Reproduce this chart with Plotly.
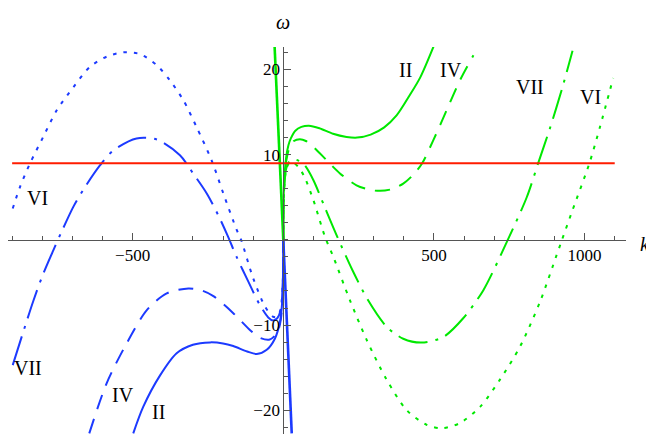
import plotly.graph_objects as go

# --- data (k, omega) ---
OMEGA_LEVEL = 9.0

# steep branch through the origin (shared by every curve of one colour)
K_STEEP_GREEN = [-29, -15, -7, 0]
W_STEEP_GREEN = [22.8, 11.7, 5.8, 0]
K_STEEP_BLUE = [0, 7, 14, 28]
W_STEEP_BLUE = [0, -5.8, -11.8, -22.7]

# green branches (k > 0)
K_GREEN_II = [0, 0.5, 2, 5, 10, 17, 25, 40, 60, 85, 120, 165, 210, 245, 290, 335, 376, 420, 455, 500]
W_GREEN_II = [0, 3.5, 6.0, 8.0, 9.8, 11.1, 11.9, 12.8, 13.25, 13.4, 13.1, 12.45, 12.08, 12.0, 12.35, 13.2, 14.6, 17.0, 19.1, 22.8]

K_GREEN_IV = [0, 0.5, 2, 5, 10, 20, 35, 55, 75, 100, 144, 188, 243, 290, 321, 360, 398, 430, 461, 498, 542, 586, 631]
W_GREEN_IV = [0, 3.3, 5.6, 7.6, 9.3, 10.8, 11.6, 11.8, 11.6, 10.9, 9.34, 7.8, 6.4, 5.85, 5.75, 5.95, 6.6, 7.6, 9.0, 11.7, 15.2, 18.7, 21.65]

K_GREEN_VII = [0, 0.5, 2, 5, 10, 20, 34, 50, 70, 100, 138, 180, 230, 280, 343, 398, 459, 531, 597, 664, 745, 808, 846, 885, 924, 960]
W_GREEN_VII = [0, 3.2, 5.4, 7.2, 8.4, 9.2, 9.45, 9.3, 8.8, 7.0, 3.8, 0.3, -3.6, -7.0, -10.2, -11.6, -12.05, -11.4, -9.2, -5.9, 0, 5.0, 9.0, 13.1, 17.6, 22.2]

K_GREEN_VI = [0, 0.5, 2, 5, 10, 20, 35, 50, 70, 100, 138, 166, 221, 277, 343, 410, 476, 526, 586, 653, 719, 786, 852, 907, 925, 960, 1016, 1051, 1095]
W_GREEN_VI = [0, 3.2, 5.4, 7.1, 8.3, 9.05, 9.0, 8.56, 7.4, 4.65, 0.4, -2.0, -7.07, -11.76, -16.4, -20.0, -21.7, -22.1, -21.5, -19.6, -16.4, -12.5, -7.27, -1.8, 0, 3.5, 9.0, 13.25, 19.0]

# blue branches (k < 0)
K_BLUE_II = [-498, -465, -409, -354, -300, -243, -200, -166, -120, -88, -55, -28, -11, -5, -2, -0.5, 0]
W_BLUE_II = [-22.7, -19.6, -15.9, -13.3, -12.3, -12.03, -12.15, -12.46, -13.1, -13.4, -12.9, -11.6, -9.6, -7.9, -5.9, -3.5, 0]

K_BLUE_IV = [-644, -586, -520, -453, -387, -315, -270, -232, -166, -110, -77, -45, -20, -8, -2, -0.5, 0]
W_BLUE_IV = [-22.7, -16.8, -12.15, -8.24, -6.28, -5.7, -5.95, -6.6, -8.6, -10.6, -11.5, -11.7, -10.9, -9.3, -5.6, -3.3, 0]

K_BLUE_VII = [-898, -830, -798, -763, -736, -697, -658, -608, -564, -487, -420, -343, -299, -254, -216, -183, -155, -116, -80, -50, -34, -20, -10, -5, -2, -0.5, 0]
W_BLUE_VII = [-14.7, -7.2, -4.1, -1.2, 0.94, 3.87, 6.2, 8.76, 10.5, 11.9, 11.77, 9.93, 7.78, 5.44, 2.9, 0.35, -2.0, -4.9, -7.5, -9.1, -9.45, -9.2, -8.4, -7.2, -5.4, -3.2, 0]

K_BLUE_VI = [-898, -874, -841, -797, -752, -697, -642, -586, -531, -476, -420, -376, -332, -288, -238, -199, -155, -140, -100, -61, -35, -20, -10, -5, -2, -0.5, 0]
W_BLUE_VI = [3.68, 6.2, 8.95, 12.07, 15.2, 17.9, 20.3, 21.5, 22.0, 21.8, 20.5, 18.7, 16.4, 13.25, 9.34, 5.44, 1.2, 0, -4.5, -7.8, -9.0, -9.05, -8.3, -7.1, -5.4, -3.2, 0]

K_LEVEL = [-900, 1100]

X_TICKS = [-500, 500, 1000]
X_TICK_TEXT = ["\u2212500", "500", "1000"]
Y_TICKS = [-20, -10, 10, 20]
Y_TICK_TEXT = ["\u221220", "\u221210", "10", "20"]

# the page body adds an 8px offset, so the plot starts 8px in from the window edge
X_RANGE = [-913.7, 1137.4]
Y_RANGE = [-22.78, 22.63]

GREEN = "rgb(0,232,0)"
BLUE = "rgb(28,58,255)"
RED = "rgb(255,28,0)"
SERIF = "Liberation Serif, Times New Roman, serif"

DASHES = {
    "II": "solid",
    "IV": "15px,10px",
    "VII": "30px,8px,3px,8px",
    "VI": "3.5px,7px",
}

fig = go.Figure()


def add_curve(k, w, color, dash, shape="spline"):
    fig.add_trace(go.Scatter(
        x=k, y=w, mode="lines",
        line=dict(color=color, width=2, dash=dash, shape=shape, smoothing=0.8),
        hoverinfo="skip", showlegend=False,
    ))


add_curve(K_GREEN_II, W_GREEN_II, GREEN, DASHES["II"])
add_curve(K_GREEN_IV, W_GREEN_IV, GREEN, DASHES["IV"])
add_curve(K_GREEN_VII, W_GREEN_VII, GREEN, DASHES["VII"])
add_curve(K_GREEN_VI, W_GREEN_VI, GREEN, DASHES["VI"])
add_curve(K_BLUE_II, W_BLUE_II, BLUE, DASHES["II"])
add_curve(K_BLUE_IV, W_BLUE_IV, BLUE, DASHES["IV"])
add_curve(K_BLUE_VII, W_BLUE_VII, BLUE, DASHES["VII"])
add_curve(K_BLUE_VI, W_BLUE_VI, BLUE, DASHES["VI"])

fig.add_trace(go.Scatter(x=K_STEEP_GREEN, y=W_STEEP_GREEN, mode="lines",
                         line=dict(color=GREEN, width=2.6), hoverinfo="skip", showlegend=False))
fig.add_trace(go.Scatter(x=K_STEEP_BLUE, y=W_STEEP_BLUE, mode="lines",
                         line=dict(color=BLUE, width=2.6), hoverinfo="skip", showlegend=False))

fig.add_trace(go.Scatter(x=K_LEVEL, y=[OMEGA_LEVEL, OMEGA_LEVEL], mode="lines",
                         line=dict(color=RED, width=2), hoverinfo="skip", showlegend=False))

# curve labels
labels = [
    ("VI", -817, 4.9), ("VII", -847, -15.0), ("IV", -532, -18.2), ("II", -413, -20.2),
    ("II", 407, 19.9), ("IV", 557, 19.9), ("VII", 819, 17.9), ("VI", 1020, 16.8),
]
for text, kx, wy in labels:
    fig.add_annotation(x=kx, y=wy, text=text, showarrow=False,
                       xanchor="center", yanchor="middle",
                       font=dict(family=SERIF, size=20, color="black"))

# axis titles
fig.add_annotation(x=0, y=1.065, xref="x", yref="paper", text="<i>\u03c9</i>", showarrow=False,
                   xanchor="center", yanchor="middle",
                   font=dict(family=SERIF, size=20, color="black"))
fig.add_annotation(x=1.042, y=0.49, xref="paper", yref="paper", text="<i>k</i>", showarrow=False,
                   xanchor="right", yanchor="middle",
                   font=dict(family=SERIF, size=20, color="black"))

x_pos = (0 - Y_RANGE[0]) / (Y_RANGE[1] - Y_RANGE[0])
y_pos = (0 - X_RANGE[0]) / (X_RANGE[1] - X_RANGE[0])

axis_common = dict(
    showgrid=False, zeroline=False, showline=True, linecolor="#555", linewidth=1,
    ticks="inside", ticklen=7, tickcolor="#555", tickwidth=1,
    tickfont=dict(family=SERIF, size=17, color="black"),
    anchor="free", automargin=False,
)

fig.update_layout(
    width=646, height=426,
    margin=dict(l=0, r=28, t=39, b=0),
    plot_bgcolor="white", paper_bgcolor="white",
    xaxis=dict(range=X_RANGE, tickvals=X_TICKS, ticktext=X_TICK_TEXT, position=x_pos,
               minor=dict(dtick=100, tick0=0, ticks="inside", ticklen=4, tickcolor="#555"),
               **axis_common),
    yaxis=dict(range=Y_RANGE, tickvals=Y_TICKS, ticktext=Y_TICK_TEXT, position=y_pos,
               minor=dict(dtick=2, tick0=0, ticks="inside", ticklen=4, tickcolor="#555"),
               **axis_common),
)

fig.write_html("out.html")
